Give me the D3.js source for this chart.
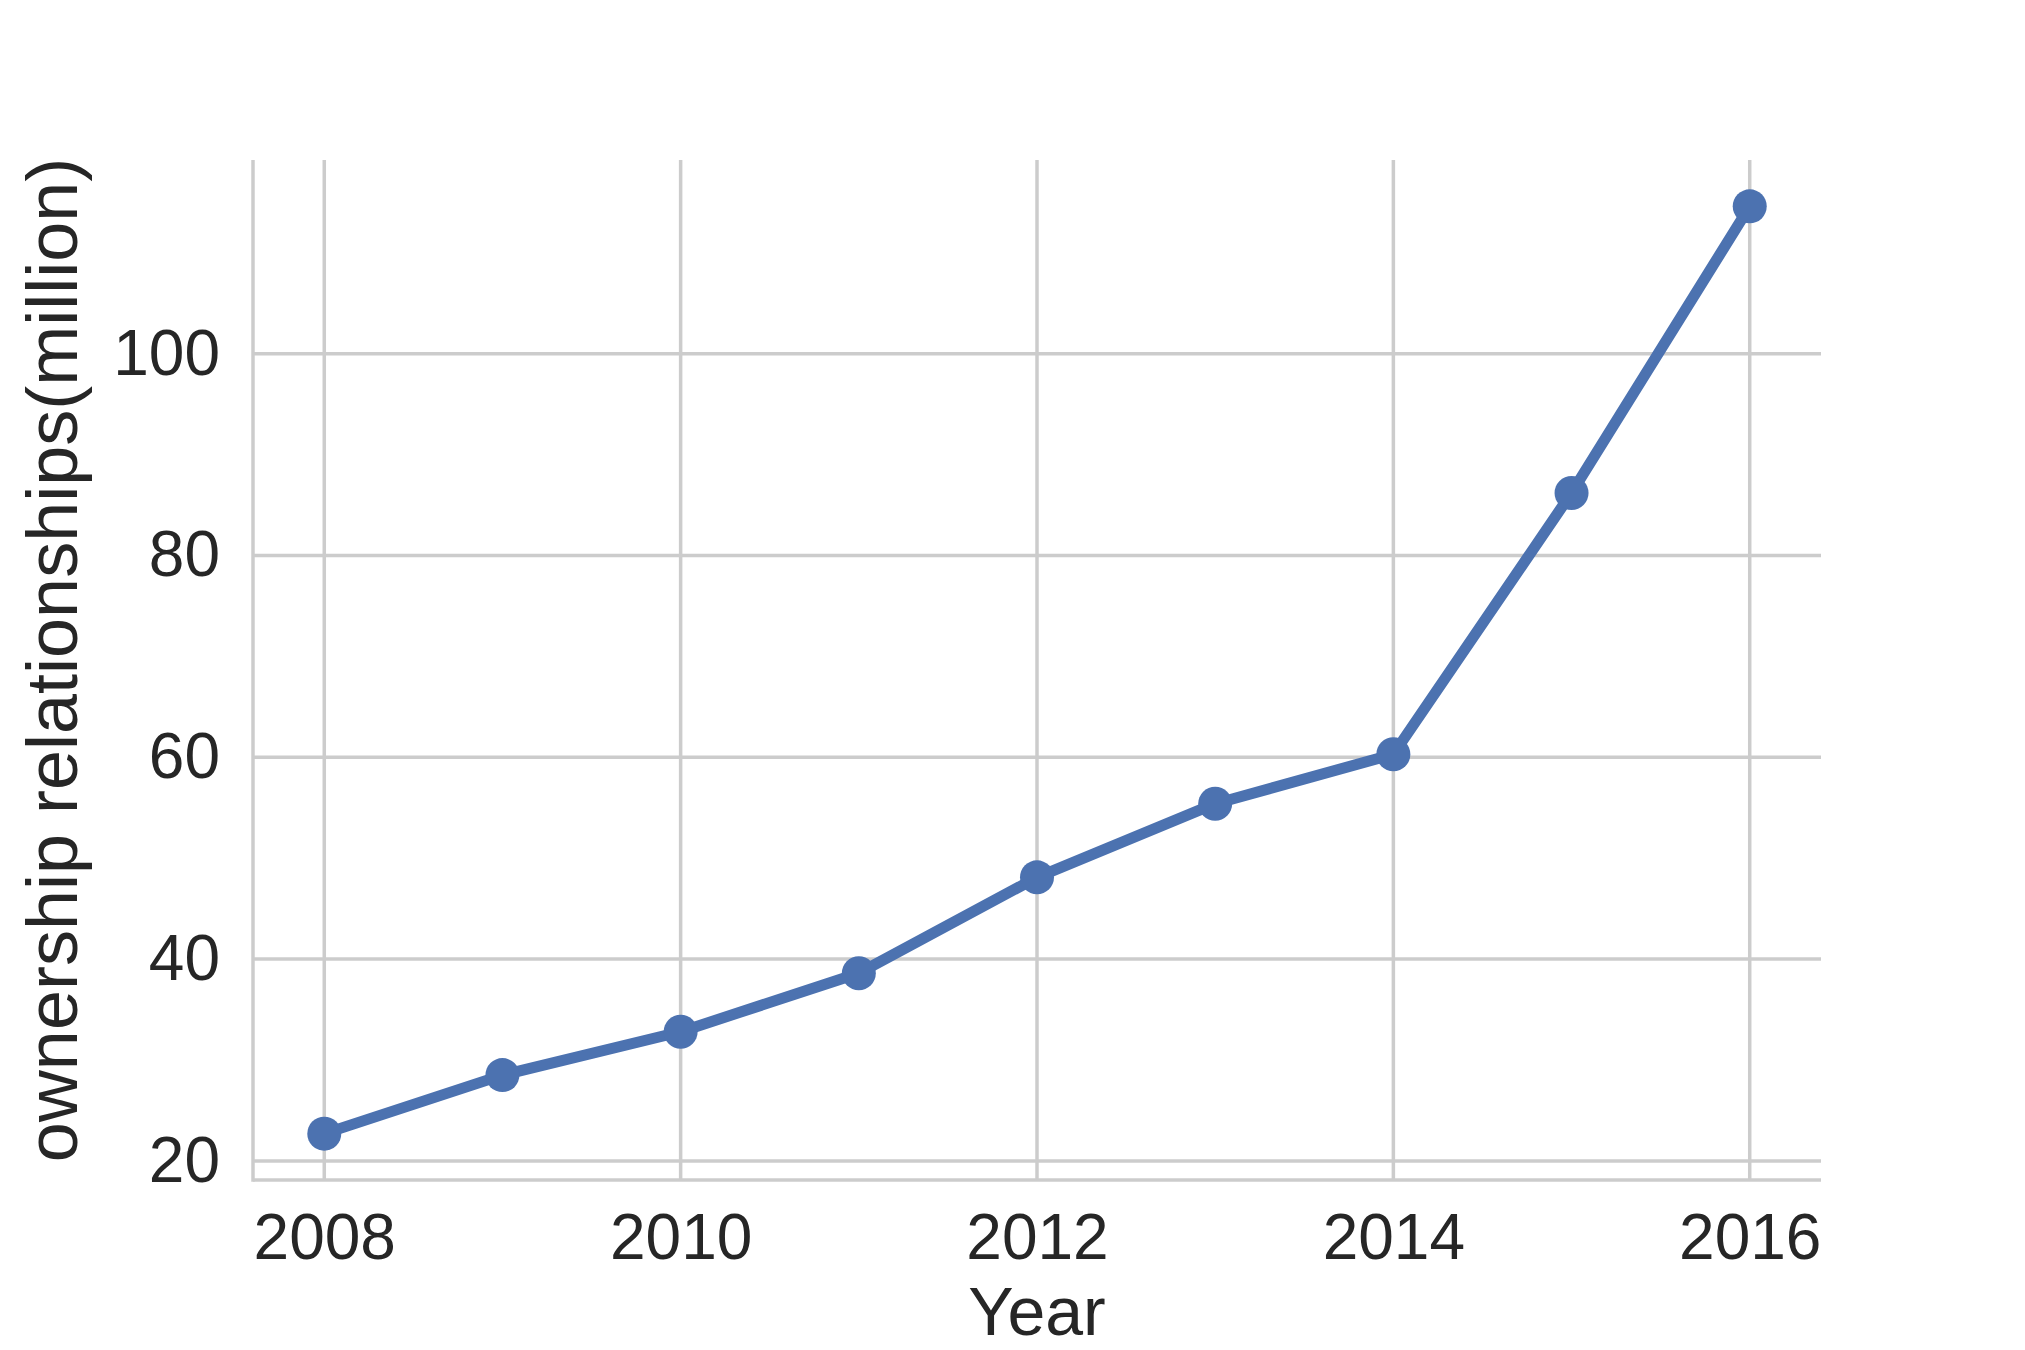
<!DOCTYPE html>
<html>
<head>
<meta charset="utf-8">
<script src="https://cdn.jsdelivr.net/npm/d3@7"></script>
<style>
  html, body { margin: 0; padding: 0; background: #ffffff; }
  svg { display: block; font-family: "Liberation Sans", Arial, sans-serif; }
</style>
</head>
<body>
<svg id="chart" width="2025" height="1350"></svg>
<script>
const years = [2008, 2009, 2010, 2011, 2012, 2013, 2014, 2015, 2016];
const values = [22.7, 28.5, 32.8, 38.6, 48.1, 55.4, 60.3, 86.2, 114.6];
const xTicks = [2008, 2010, 2012, 2014, 2016];
const yTicks = [20, 40, 60, 80, 100];
const xLabel = "Year";
const yLabel = "ownership relationships(million)";

const W = 2025, H = 1350;
const plot = { left: 253, right: 1821, top: 160, bottom: 1180 };
const svg = d3.select("#chart");

const pad = (lo, hi) => { const m = (hi - lo) * 0.05; return [lo - m, hi + m]; };
const x = d3.scaleLinear().domain(pad(d3.min(years), d3.max(years))).range([plot.left, plot.right]);
const y = d3.scaleLinear().domain(pad(d3.min(values), d3.max(values))).range([plot.bottom, plot.top]);

const gridColor = "#cccccc";
const textColor = "#262626";

// grid lines
const grid = svg.append("g");
grid.selectAll("line.gx").data(xTicks).enter().append("line")
  .attr("x1", d => x(d)).attr("x2", d => x(d))
  .attr("y1", plot.top).attr("y2", plot.bottom)
  .attr("stroke", gridColor).attr("stroke-width", 3.5);
grid.selectAll("line.gy").data(yTicks).enter().append("line")
  .attr("x1", plot.left).attr("x2", plot.right)
  .attr("y1", d => y(d)).attr("y2", d => y(d))
  .attr("stroke", gridColor).attr("stroke-width", 3.5);

// spines (left and bottom)
svg.append("line").attr("x1", plot.left).attr("x2", plot.left)
  .attr("y1", plot.top).attr("y2", plot.bottom + 1.75)
  .attr("stroke", gridColor).attr("stroke-width", 3.5);
svg.append("line").attr("x1", plot.left).attr("x2", plot.right)
  .attr("y1", plot.bottom).attr("y2", plot.bottom)
  .attr("stroke", gridColor).attr("stroke-width", 3.5);

// axes tick labels via d3 axes
const xAxis = d3.axisBottom(x).tickValues(xTicks).tickFormat(d3.format("d")).tickSize(0).tickPadding(34);
const gx = svg.append("g").attr("transform", `translate(0,${plot.bottom})`).call(xAxis);
gx.select(".domain").remove();
gx.selectAll("text").attr("fill", textColor).style("font-size", "64px");

const yAxis = d3.axisLeft(y).tickValues(yTicks).tickFormat(d3.format("d")).tickSize(0).tickPadding(33);
const gy = svg.append("g").attr("transform", `translate(${plot.left},0)`).call(yAxis);
gy.select(".domain").remove();
gy.selectAll("text").attr("fill", textColor).style("font-size", "64px");

// line
const line = d3.line().x((d, i) => x(years[i])).y(d => y(d));
svg.append("path").datum(values)
  .attr("d", line).attr("fill", "none")
  .attr("stroke", "#4c72b0").attr("stroke-width", 11)
  .attr("stroke-linejoin", "round").attr("stroke-linecap", "round");

svg.selectAll("circle.pt").data(values).enter().append("circle")
  .attr("cx", (d, i) => x(years[i])).attr("cy", d => y(d))
  .attr("r", 17).attr("fill", "#4c72b0");

// axis labels
svg.append("text").attr("x", (plot.left + plot.right) / 2).attr("y", 1335)
  .attr("text-anchor", "middle").attr("fill", textColor)
  .style("font-size", "68px").text(xLabel);

svg.append("text")
  .attr("transform", `translate(77,${(plot.top + plot.bottom) / 2 - 10}) rotate(-90)`)
  .attr("text-anchor", "middle").attr("fill", textColor)
  .style("font-size", "72px").text(yLabel);
</script>
</body>
</html>
